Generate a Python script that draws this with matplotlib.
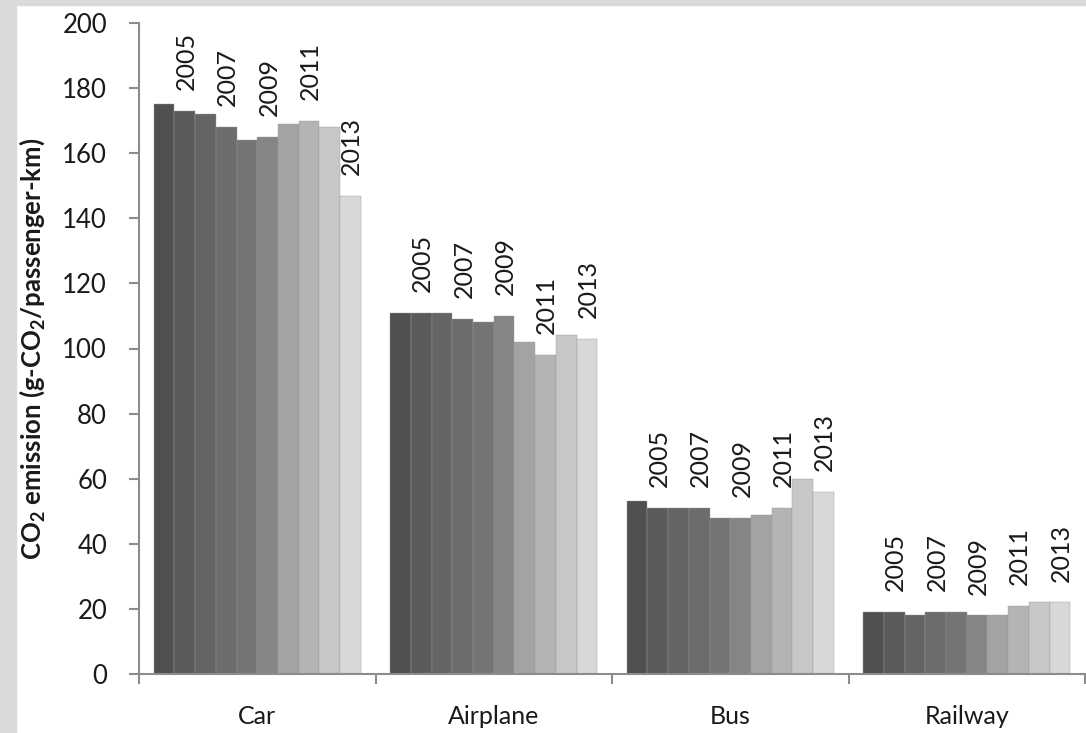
import numpy as np
import matplotlib.pyplot as plt
from matplotlib.patches import Rectangle

plt.rcParams['font.family'] = ['Lato', 'DejaVu Sans']
plt.rcParams['mathtext.fontset'] = 'custom'
plt.rcParams['mathtext.rm'] = 'Lato'
plt.rcParams['mathtext.bf'] = 'Lato:bold'

modes = ['Car', 'Airplane', 'Bus', 'Railway']
years = list(range(2004, 2014))
labelled_years = [2005, 2007, 2009, 2011, 2013]

car = [175, 173, 172, 168, 164, 165, 169, 170, 168, 147]
airplane = [111, 111, 111, 109, 108, 110, 102, 98, 104, 103]
bus = [53, 51, 51, 51, 48, 48, 49, 51, 60, 56]
railway = [19, 19, 18, 19, 19, 18, 18, 21, 22, 22]

year_colors = ['#505050', '#5b5b5b', '#646464', '#6c6c6c', '#747474',
               '#858585', '#a3a3a3', '#b4b4b4', '#c7c7c7', '#d8d8d8']

values = np.array([car, airplane, bus, railway])

fig = plt.figure(figsize=(10.86, 7.33), dpi=100)
# grey frame along the top and left edges
fig.patches.append(Rectangle((0, 0), 16 / 1086, 1, transform=fig.transFigure,
                             color='#dadada', zorder=0))
fig.patches.append(Rectangle((0, 1 - 5 / 733), 1, 5 / 733, transform=fig.transFigure,
                             color='#dadada', zorder=0))

ax = fig.add_axes([139 / 1086, 1 - 674 / 733, 946 / 1086, 651 / 733])

x = np.arange(len(modes))
w = 0.0875
for i, yr in enumerate(years):
    pos = x + (i - 4.5) * w
    bars = ax.bar(pos, values[:, i], width=w, color=year_colors[i],
                  edgecolor='#9a9a9a', linewidth=0.3, zorder=2)
    if yr in labelled_years:
        for b in bars:
            ax.annotate(str(yr), (b.get_x() + b.get_width() / 2, b.get_height()),
                        xytext=(1, 15), textcoords='offset points',
                        rotation=90, ha='center', va='bottom', fontsize=18,
                        color='#1a1a1a')

ax.set_xlim(-0.5, 3.5)
ax.set_ylim(0, 200)
ax.set_yticks(range(0, 201, 20))
ax.set_xticks(x)
ax.set_xticklabels(modes)
ax.set_xticks(np.arange(-0.5, 4, 1), minor=True)

for s in ['top', 'right']:
    ax.spines[s].set_visible(False)
for s in ['left', 'bottom']:
    ax.spines[s].set_color('#8c8c8c')
    ax.spines[s].set_linewidth(1.5)

ax.tick_params(axis='y', length=7, width=1.5, color='#8c8c8c', pad=16,
               labelsize=18.5, labelcolor='#1a1a1a')
ax.tick_params(axis='x', which='major', length=0, pad=22, labelsize=18,
               labelcolor='#1a1a1a')
ax.tick_params(axis='x', which='minor', length=7, width=1.5, color='#8c8c8c')

ax.set_ylabel(r'CO$_\mathbf{2}$ emission (g-CO$_\mathbf{2}$/passenger-km)',
              fontsize=18.5, fontweight='bold', color='#1a1a1a', labelpad=11)

fig.savefig('out.png', dpi=100)
